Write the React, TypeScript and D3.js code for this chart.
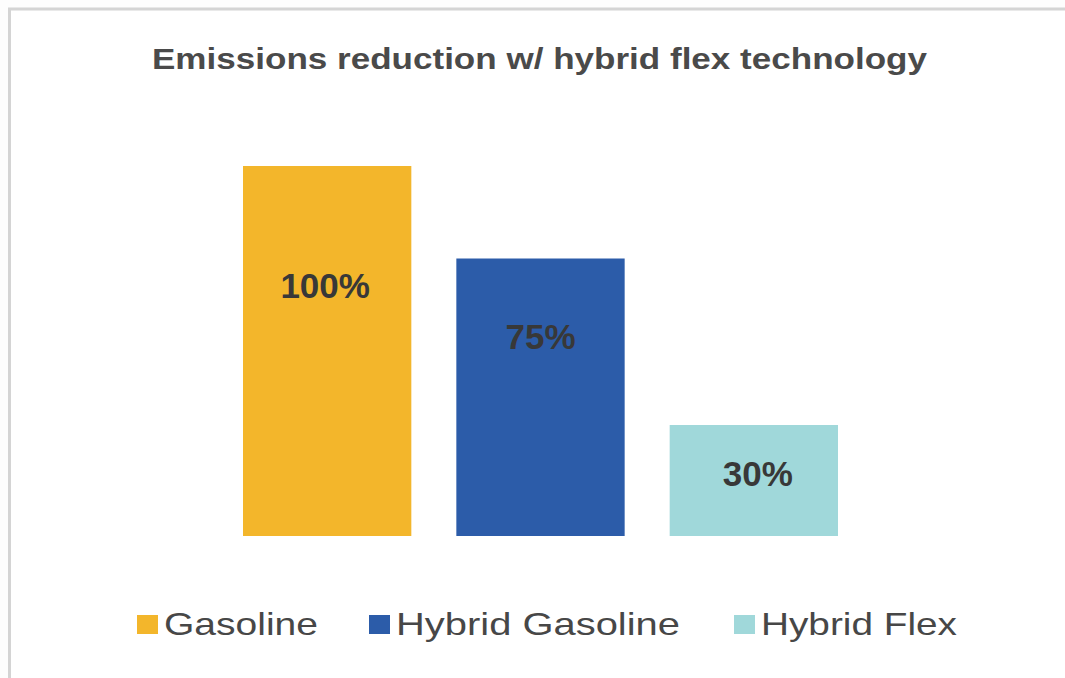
import React from "react";
import * as d3 from "d3";

// Emission levels relative to a conventional gasoline vehicle
const categories = ["Gasoline", "Hybrid Gasoline", "Hybrid Flex"];
const values = [100, 75, 30];
const colors = ["#F3B62B", "#2C5CA9", "#A0D8DA"];
const valueLabels = ["100%", "75%", "30%"];
const titleText = "Emissions reduction w/ hybrid flex technology";

const W = 1065;
const H = 678;

// where each value label's baseline sits, in value units
const labelBaselineAt = [64.3, 50.6, 13.5];

// legend item anchors (swatch left edge) and stretched text widths
const legendX = [137, 369, 734];
const legendTextLen = [154, 284, 196];

export default function App() {
  const x = d3
    .scaleBand<string>()
    .domain(categories)
    .range([243, 838])
    .paddingInner(0.211)
    .paddingOuter(0);
  const y = d3.scaleLinear().domain([0, 100]).range([536, 166]);

  const textColor = "#474747";

  return (
    <svg
      width={W}
      height={H}
      style={{ position: "absolute", left: 0, top: 0, background: "#fff" }}
      fontFamily="'Liberation Sans', Arial, sans-serif"
    >
      <rect x={0} y={0} width={W} height={H} fill="#fdfdfd" />
      <rect
        x={9.5}
        y={9}
        width={W + 20}
        height={H + 20}
        fill="#ffffff"
        stroke="#d4d4d4"
        strokeWidth={3}
      />

      <text
        x={152}
        y={69}
        fontSize={29}
        fontWeight="bold"
        fill="#4a4a4a"
        textLength={775}
        lengthAdjust="spacingAndGlyphs"
      >
        {titleText}
      </text>

      {categories.map((c, i) => (
        <rect
          key={c}
          x={x(c)}
          y={y(values[i])}
          width={x.bandwidth()}
          height={y(0) - y(values[i])}
          fill={colors[i]}
        />
      ))}

      {categories.map((c, i) => (
        <text
          key={c + "-lbl"}
          x={(x(c) as number) + x.bandwidth() / 2 + (i === 2 ? 4 : i === 0 ? -2 : 0)}
          y={y(labelBaselineAt[i])}
          textAnchor="middle"
          fontSize={35}
          fontWeight="bold"
          fill="#383838"
        >
          {valueLabels[i]}
        </text>
      ))}

      {categories.map((c, i) => (
        <g key={c + "-leg"}>
          <rect x={legendX[i]} y={615} width={21} height={19} fill={colors[i]} />
          <text
            x={legendX[i] + 27}
            y={635}
            fontSize={32}
            fill={textColor}
            textLength={legendTextLen[i]}
            lengthAdjust="spacingAndGlyphs"
          >
            {c}
          </text>
        </g>
      ))}
    </svg>
  );
}
